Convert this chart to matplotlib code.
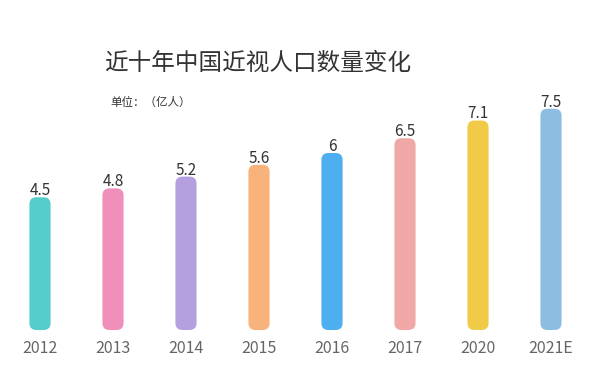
import matplotlib.pyplot as plt
from matplotlib.patches import FancyBboxPatch

plt.rcParams['font.family'] = ['Noto Sans CJK SC', 'DejaVu Sans']

# Data
years = ['2012', '2013', '2014', '2015', '2016', '2017', '2020', '2021E']
values = [4.5, 4.8, 5.2, 5.6, 6, 6.5, 7.1, 7.5]
labels = ['4.5', '4.8', '5.2', '5.6', '6', '6.5', '7.1', '7.5']
colors = ['#55CDCC', '#EF8FBA', '#B5A0DF', '#F8B27C',
          '#4DAFF0', '#F0A8A6', '#F1CB47', '#8DBDE0']

fig = plt.figure(figsize=(5.98, 3.86), dpi=100)
ax = fig.add_axes([3.5 / 598, 56 / 386, 584 / 598, 236 / 386])
ax.set_xlim(-0.5, 7.5)
ax.set_ylim(0, 8)

# rounded bars: draw plain bars, then swap each for a rounded box
bars = ax.bar(range(len(years)), values, width=0.29, color=colors)
fig.canvas.draw()
px_x = ax.transData.transform((1, 0))[0] - ax.transData.transform((0, 0))[0]
px_y = ax.transData.transform((0, 1))[1] - ax.transData.transform((0, 0))[1]
aspect = px_x / px_y
radius = 7 / px_x
for b, c in zip(bars, colors):
    b.set_visible(False)
    box = FancyBboxPatch((b.get_x(), 0), b.get_width(), b.get_height(),
                         boxstyle=f"round,pad=0,rounding_size={radius}",
                         mutation_aspect=aspect, facecolor=c, edgecolor='none')
    ax.add_patch(box)

for i, (v, t) in enumerate(zip(values, labels)):
    ax.annotate(t, (i, v), xytext=(0, 1.5), textcoords='offset points',
                ha='center', va='baseline', fontsize=11, color='#333333')

ax.set_xticks(range(len(years)))
ax.set_xticklabels(years, fontsize=11.5, color='#666666')
ax.tick_params(axis='x', length=0, pad=7)
ax.set_yticks([])
for s in ax.spines.values():
    s.set_visible(False)

fig.text(258 / 598, 1 - 63 / 386, '近十年中国近视人口数量变化', ha='center', va='center',
         fontsize=17, color='#333333')
fig.text(110 / 598, 1 - 102 / 386, '单位：（亿人）', ha='left', va='center',
         fontsize=8.3, color='#333333')

fig.savefig('out.png', dpi=100)
